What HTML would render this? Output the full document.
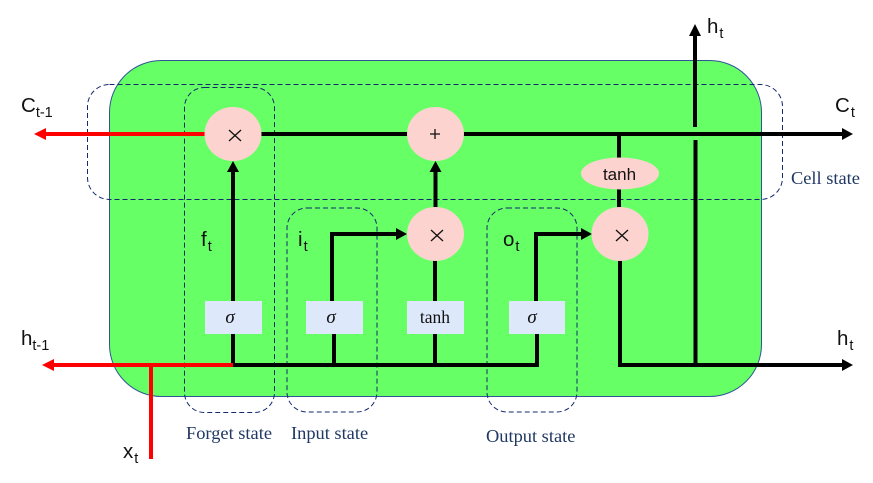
<!DOCTYPE html>
<html>
<head>
<meta charset="utf-8">
<style>
html,body{margin:0;padding:0;background:#fff;width:873px;height:483px;overflow:hidden}
svg{display:block}
.s{font-family:"Liberation Sans",sans-serif;fill:#111}
.m{font-size:20.500px}
.b{font-size:14.500px}
.st{font-family:"Liberation Serif",serif;font-size:18.400px;fill:#1f3864}
.k{stroke:#000;stroke-width:4;fill:none}
.r{stroke:#f00;stroke-width:4;fill:none}
.d{stroke:#14286e;stroke-width:1;stroke-dasharray:5 3;fill:none}
.c{fill:#fdd3d0}
.bx{fill:#dde8fb}
.o{stroke:#111;stroke-width:1.300;fill:none}
</style>
</head>
<body>
<svg width="873" height="483" viewBox="0 0 873 483" xmlns="http://www.w3.org/2000/svg">
<rect x="109.500" y="60.500" width="652" height="336" rx="52" ry="52" fill="#66ff66" stroke="#2f5597" stroke-width="1"/>

<!-- dashed groups -->
<rect x="87.500" y="84.500" width="695" height="115" rx="22" ry="22" class="d"/>
<rect x="184.500" y="87.500" width="90" height="325" rx="20" ry="20" class="d"/>
<rect x="287" y="208" width="90" height="204" rx="20" ry="20" class="d"/>
<rect x="487" y="208" width="90" height="204" rx="20" ry="20" class="d"/>

<!-- black connectors -->
<path class="k" d="M261 134H843"/>
<path class="k" d="M233 172V301M233 334V365H537V334"/>
<path class="k" d="M332 301V234H397"/>
<path class="k" d="M334 334V365"/>
<path class="k" d="M435 260V301M435 334V365"/>
<path class="k" d="M435.500 172V208"/>
<path class="k" d="M536 301V234H583"/>
<path class="k" d="M619 134V159M619 188V208"/>
<path class="k" d="M620 260V365H843"/>
<path class="k" d="M695.500 140V365"/>
<path class="k" d="M695 127V36"/>

<!-- black arrowheads -->
<polygon points="233,161 227,172 239,172" fill="#000"/>
<polygon points="435.500,161 429.500,172 441.500,172" fill="#000"/>
<polygon points="407,234 396,228 396,240" fill="#000"/>
<polygon points="592,234 581,228 581,240" fill="#000"/>
<polygon points="853,134 842,128 842,140" fill="#000"/>
<polygon points="853,365 842,359 842,371" fill="#000"/>
<polygon points="695,24 689,36 701,36" fill="#000"/>

<!-- red connectors -->
<path class="r" d="M45 134H205"/>
<polygon points="34,134 46,128 46,140" fill="#f00"/>
<path class="r" d="M54 365H233"/>
<polygon points="42,365 54,359 54,371" fill="#f00"/>
<path class="r" d="M151 365V459"/>

<!-- circles -->
<ellipse cx="233" cy="134" rx="28.500" ry="27" class="c"/>
<ellipse cx="435.500" cy="134" rx="28.500" ry="27" class="c"/>
<ellipse cx="435.500" cy="234" rx="28.500" ry="27" class="c"/>
<ellipse cx="620" cy="234" rx="28.500" ry="27" class="c"/>
<ellipse cx="620" cy="173.500" rx="39" ry="16" class="c"/>

<!-- operators -->
<path class="o" d="M229 130L241 141M241 130L229 141"/>
<path class="o" d="M430 134H440M435 129V139"/>
<path class="o" d="M431 230L443 241M443 230L431 241"/>
<path class="o" d="M616 230L628 241M628 230L616 241"/>

<!-- boxes -->
<rect x="205" y="301" width="57" height="33" class="bx"/>
<rect x="306" y="301" width="57" height="33" class="bx"/>
<rect x="407" y="301" width="57" height="33" class="bx"/>
<rect x="509" y="301" width="56" height="33" class="bx"/>

<!-- box labels -->
<text x="230" y="323" text-anchor="middle" font-family="Liberation Serif, serif" font-style="italic" font-size="19" fill="#111">σ</text>
<text x="331" y="323" text-anchor="middle" font-family="Liberation Serif, serif" font-style="italic" font-size="19" fill="#111">σ</text>
<text x="435" y="323" text-anchor="middle" font-family="Liberation Serif, serif" font-size="17.500" fill="#111">tanh</text>
<text x="532" y="323" text-anchor="middle" font-family="Liberation Serif, serif" font-style="italic" font-size="19" fill="#111">σ</text>
<text x="619.500" y="180" text-anchor="middle" class="s" font-size="17">tanh</text>

<!-- math labels -->
<text x="21" y="112" class="s m">C<tspan class="b" dy="5">t-1</tspan></text>
<text x="21" y="345" class="s m">h<tspan class="b" dy="5">t-1</tspan></text>
<text x="123" y="458" class="s m">x<tspan class="b" dy="5" dx="1">t</tspan></text>
<text x="201" y="246" class="s m">f<tspan class="b" dy="5" dx="1">t</tspan></text>
<text x="298" y="246" class="s m">i<tspan class="b" dy="5" dx="1">t</tspan></text>
<text x="503" y="246" class="s m">o<tspan class="b" dy="5" dx="1">t</tspan></text>
<text x="707" y="33" class="s m">h<tspan class="b" dy="5" dx="1">t</tspan></text>
<text x="835" y="112" class="s m">C<tspan class="b" dy="5" dx="1">t</tspan></text>
<text x="837" y="345" class="s m">h<tspan class="b" dy="5" dx="1">t</tspan></text>

<!-- state labels -->
<text x="186" y="439" class="st">Forget state</text>
<text x="291" y="439" class="st">Input state</text>
<text x="486" y="442" class="st">Output state</text>
<text x="791" y="184" class="st">Cell state</text>
</svg>
</body>
</html>
